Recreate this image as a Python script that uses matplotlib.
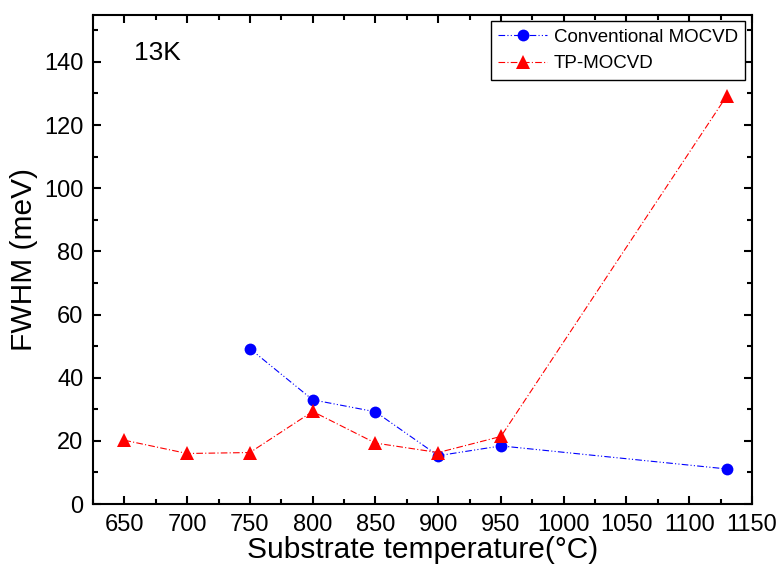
import matplotlib
matplotlib.use("Agg")
import matplotlib.pyplot as plt
from matplotlib.ticker import MultipleLocator

plt.rcParams['font.family'] = ['Liberation Sans', 'DejaVu Sans']

conv_x = [750, 800, 850, 900, 950, 1130]
conv_y = [49.2, 33.0, 29.2, 15.3, 18.4, 11.1]
tp_x = [650, 700, 750, 800, 850, 900, 950, 1130]
tp_y = [20.2, 16.0, 16.3, 29.3, 19.3, 16.3, 21.4, 129.3]

fig = plt.figure(figsize=(7.8, 5.69), dpi=100)
ax = fig.add_axes([0.1192, 0.1142, 0.8449, 0.8603])

ax.plot(conv_x, conv_y, color='blue', linestyle=(0, (6, 2, 1, 2, 1, 2)), linewidth=0.8,
        marker='o', markersize=8.5, markeredgewidth=0, label='Conventional MOCVD')
ax.plot(tp_x, tp_y, color='red', linestyle=(0, (6, 2, 1, 2)), linewidth=0.8,
        marker='^', markersize=10.5, markeredgewidth=0, label='TP-MOCVD')

ax.set_xlim(625, 1150)
ax.set_ylim(0, 155)
ax.xaxis.set_major_locator(MultipleLocator(50))
ax.xaxis.set_minor_locator(MultipleLocator(25))
ax.yaxis.set_major_locator(MultipleLocator(20))
ax.yaxis.set_minor_locator(MultipleLocator(10))
ax.tick_params(which='both', direction='in', top=True, right=True, width=1.5, labelsize=17, pad=7)
ax.tick_params(which='major', length=6)
ax.tick_params(which='minor', length=3.5)
for s in ax.spines.values():
    s.set_linewidth(1.5)

ax.set_xlabel('Substrate temperature(°C)', fontsize=21.5, labelpad=0)
ax.set_ylabel('FWHM (meV)', fontsize=21.5, labelpad=4)
ax.text(0.062, 0.945, '13K', transform=ax.transAxes, fontsize=19, va='top', ha='left')

leg = ax.legend(loc='upper right', fontsize=13.5, frameon=True, fancybox=False,
                edgecolor='black', framealpha=1, borderaxespad=0.35, handlelength=2.6,
                borderpad=0.4, labelspacing=0.5, handletextpad=0.35)
leg.get_frame().set_linewidth(1.0)

fig.savefig('out.png', dpi=100)
